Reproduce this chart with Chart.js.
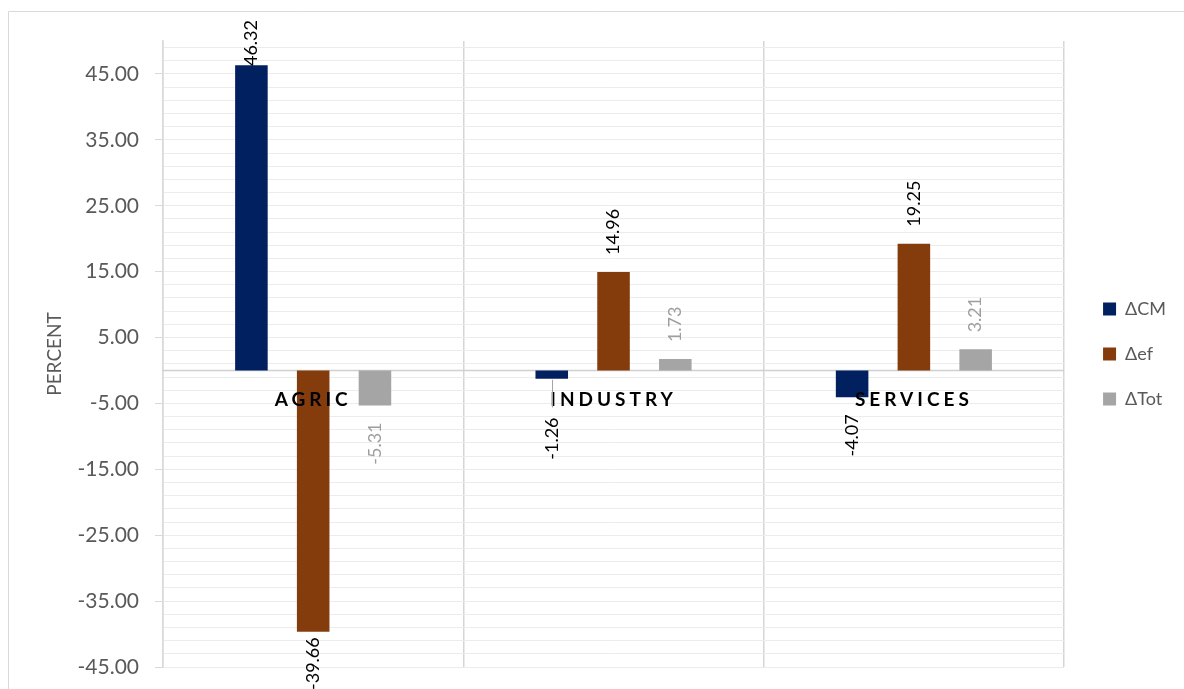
<!DOCTYPE html>
<html><head><meta charset="utf-8">
<script src="https://cdn.jsdelivr.net/npm/chart.js@4/dist/chart.umd.min.js"></script>
<style>html,body{margin:0;padding:0;background:#fff;} canvas{display:block;}</style>
</head><body>
<canvas id="c" width="1184" height="689"></canvas>
<script>
const categories = ['AGRIC', 'INDUSTRY', 'SERVICES'];
const seriesNames = ['\u0394CM', '\u0394ef', '\u0394Tot'];
const deltaCM = [46.32, -1.26, -4.07];
const deltaEf = [-39.66, 14.96, 19.25];
const deltaTot = [-5.31, 1.73, 3.21];
const yTickLabels = ['-45.00', '-35.00', '-25.00', '-15.00', '-5.00', '5.00', '15.00', '25.00', '35.00', '45.00'];
const yMin = -45, yMax = 50, minorStep = 2;

const FONT = "Lato, 'Noto Sans', 'DejaVu Sans', sans-serif";
const majorVals = yTickLabels.map(Number);
const isMajor = v => majorVals.some(m => Math.abs(m - v) < 1e-6);
const gridValues = [];
for (let v = yMin; v < yMax; v += minorStep) gridValues.push(v);

const framePlugin = {
  id: 'frame',
  beforeDraw(chart) {
    const ctx = chart.ctx;
    ctx.save();
    ctx.strokeStyle = '#d9d9d9';
    ctx.lineWidth = 1;
    ctx.beginPath();
    ctx.moveTo(8.5, chart.height + 5);
    ctx.lineTo(8.5, 11.5);
    ctx.lineTo(chart.width + 5, 11.5);
    ctx.stroke();
    ctx.restore();
  },
  beforeDatasetsDraw(chart) {
    const ctx = chart.ctx, a = chart.chartArea;
    const y0 = chart.scales.y.getPixelForValue(0);
    ctx.save();
    ctx.strokeStyle = '#d0d0d0';
    ctx.lineWidth = 1.5;
    ctx.beginPath();
    ctx.moveTo(a.left, y0);
    ctx.lineTo(a.right, y0);
    ctx.stroke();
    ctx.restore();
  }
};

const labelPlugin = {
  id: 'labels',
  afterDatasetsDraw(chart) {
    const ctx = chart.ctx;
    const xs = chart.scales.x, ys = chart.scales.y;
    const y0 = ys.getPixelForValue(0);
    const catY = y0 + 29;
    ctx.save();
    ctx.font = 'bold 19px ' + FONT;
    ctx.fillStyle = '#000';
    ctx.textAlign = 'center';
    ctx.textBaseline = 'middle';
    ctx.letterSpacing = '4px';
    categories.forEach((c, i) => ctx.fillText(c, xs.getPixelForValue(i), catY));
    ctx.restore();
    const catTop = catY - 10, catBottom = catY + 10;
    const GAP = 17, LIMIT_TOP = chart.chartArea.top - 21;
    ctx.save();
    ctx.font = '18px ' + FONT;
    ctx.textBaseline = 'middle';
    chart.data.datasets.forEach((ds, di) => {
      const meta = chart.getDatasetMeta(di);
      meta.data.forEach((bar, j) => {
        const v = ds.data[j];
        const txt = v.toFixed(2);
        const L = ctx.measureText(txt).width;
        const top = Math.min(bar.y, bar.base), bottom = Math.max(bar.y, bar.base);
        ctx.fillStyle = ds.labelColor;
        if (v >= 0) {
          let end = top - GAP;
          if (end - L < LIMIT_TOP) end = LIMIT_TOP + L;
          ctx.save();
          ctx.translate(bar.x, end);
          ctx.rotate(-Math.PI / 2);
          ctx.textAlign = 'left';
          ctx.fillText(txt, 0, 0);
          ctx.restore();
        } else {
          let start = bottom + GAP;
          if (start < catBottom && start + L > catTop) {
            start = catBottom + 8;
            ctx.save();
            ctx.strokeStyle = '#a5a5a5';
            ctx.lineWidth = 1;
            ctx.beginPath();
            ctx.moveTo(Math.round(bar.x) + 0.5, bottom + 1);
            ctx.lineTo(Math.round(bar.x) + 0.5, start - 10);
            ctx.stroke();
            ctx.restore();
          }
          if (start + L > chart.height + 1) start = chart.height + 1 - L;
          ctx.save();
          ctx.translate(bar.x, start);
          ctx.rotate(-Math.PI / 2);
          ctx.textAlign = 'right';
          ctx.fillText(txt, 0, 0);
          ctx.restore();
        }
      });
    });
    ctx.restore();
  }
};

const barCommon = { categoryPercentage: 0.617, barPercentage: 0.527, borderWidth: 0 };

new Chart(document.getElementById('c'), {
  type: 'bar',
  data: {
    labels: categories,
    datasets: [
      Object.assign({ label: seriesNames[0], data: deltaCM, backgroundColor: '#002060', labelColor: '#000000' }, barCommon),
      Object.assign({ label: seriesNames[1], data: deltaEf, backgroundColor: '#843c0c', labelColor: '#000000' }, barCommon),
      Object.assign({ label: seriesNames[2], data: deltaTot, backgroundColor: '#a5a5a5', labelColor: '#9e9e9e' }, barCommon)
    ]
  },
  options: {
    responsive: false,
    devicePixelRatio: 1,
    animation: false,
    events: [],
    layout: { padding: { left: 8, top: 41, bottom: 22, right: 8 } },
    plugins: {
      tooltip: { enabled: false },
      legend: {
        position: 'right',
        align: 'center',
        labels: { boxWidth: 13, boxHeight: 13, padding: 27, color: '#595959', font: { family: FONT, size: 18 } }
      }
    },
    scales: {
      x: {
        type: 'category',
        offset: true,
        grid: { offset: true, color: '#d6d6d6', lineWidth: 1.5, drawTicks: false },
        ticks: { display: false },
        border: { display: false },
        afterFit: s => { s.height = 0; }
      },
      y: {
        min: yMin, max: yMax,
        afterBuildTicks: s => { s.ticks = gridValues.map(v => ({ value: v })); },
        afterFit: s => { s.width = 155; s.paddingTop = 0; s.paddingBottom = 0; },
        ticks: {
          autoSkip: false,
          callback: v => isMajor(v) ? Number(v).toFixed(2) : '',
          font: { family: FONT, size: 21 },
          color: '#595959',
          padding: 16
        },
        grid: {
          color: '#ececec',
          lineWidth: 1,
          tickLength: 8,
          tickColor: c => (c.tick && isMajor(c.tick.value)) ? '#d9d9d9' : 'rgba(0,0,0,0)'
        },
        border: { color: '#d9d9d9', width: 1.5 },
        title: { display: true, text: 'PERCENT', color: '#595959', font: { family: FONT, size: 19 }, padding: { top: 35, bottom: 0 } }
      },
      y2: {
        position: 'right',
        display: true,
        grid: { display: false },
        ticks: { display: false },
        border: { display: false },
        afterFit: s => { s.width = 12; }
      }
    }
  },
  plugins: [framePlugin, labelPlugin]
});
</script>
</body></html>
